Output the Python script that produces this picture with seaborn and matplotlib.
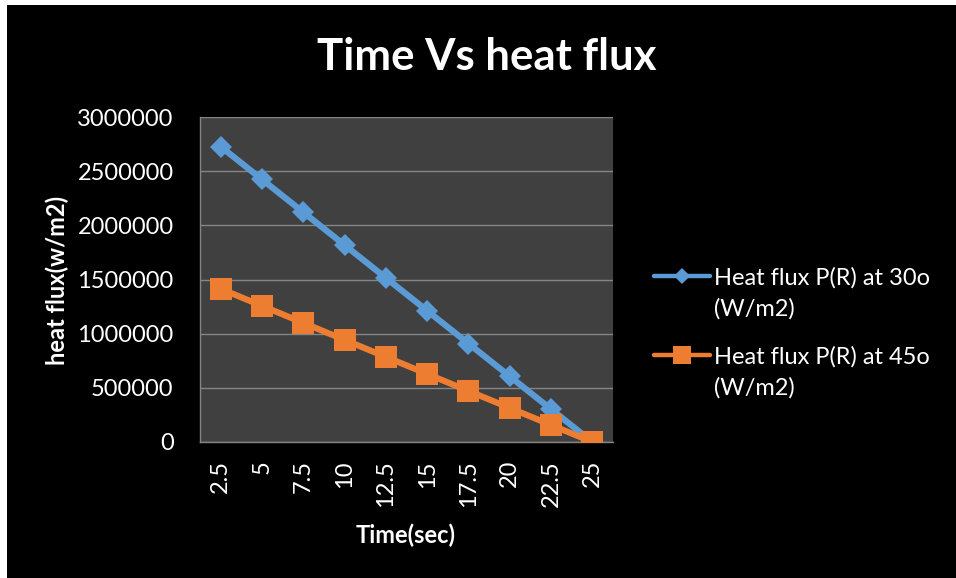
import matplotlib
matplotlib.use("Agg")
import matplotlib.pyplot as plt
import seaborn as sns
import pandas as pd
from matplotlib.patches import Rectangle

# Data
time_sec = [2.5, 5, 7.5, 10, 12.5, 15, 17.5, 20, 22.5, 25]
time_labels = ["2.5", "5", "7.5", "10", "12.5", "15", "17.5", "20", "22.5", "25"]
flux_30 = [2727000, 2424000, 2121000, 1818000, 1515000, 1212000, 909000, 606000, 303000, 0]
flux_45 = [1413900, 1256800, 1099700, 942600, 785500, 628400, 471300, 314200, 157100, 0]
series_names = ["Heat flux P(R) at 30o", "Heat flux P(R) at 45o"]
unit_label = "(W/m2)"
y_ticks = [0, 500000, 1000000, 1500000, 2000000, 2500000, 3000000]

df = pd.DataFrame({
    "time": time_sec * 2,
    "flux": flux_30 + flux_45,
    "series": [series_names[0]] * len(time_sec) + [series_names[1]] * len(time_sec),
})

sns.set_theme(style="dark")
plt.rcParams["font.family"] = ["Lato", "DejaVu Sans"]

W, H = 956, 578
FS = 17
fig = plt.figure(figsize=(W / 100, H / 100), dpi=100)
fig.patch.set_facecolor("white")
# black chart area with thin white margin at top/left
fig.patches.append(Rectangle((7 / W, 0), 1 - 7 / W, 1 - 5 / H,
                             transform=fig.transFigure, facecolor="black",
                             edgecolor="none", zorder=-10))

ax = fig.add_axes([200 / W, 1 - 442 / H, 413 / W, 325 / H])
ax.set_facecolor("#404040")

palette = {series_names[0]: "#5B9BD5", series_names[1]: "#ED7D31"}
markers = {series_names[0]: "D", series_names[1]: "s"}
sizes_ms = {series_names[0]: 11, series_names[1]: 15.5}
legend_ms = {series_names[0]: 8, series_names[1]: 12.5}

sns.lineplot(data=df, x="time", y="flux", hue="series", style="series",
             palette=palette, markers=markers, dashes=False, linewidth=4.5,
             markersize=12, markeredgewidth=0, legend=True, ax=ax, zorder=3)

for line, name in zip(ax.get_lines(), series_names):
    line.set_markersize(sizes_ms[name])

ax.set_xlim(1.25, 26.25)
ax.set_ylim(0, 3000000)
ax.set_xticks(time_sec)
ax.set_xticklabels(time_labels, rotation=90, color="white", fontsize=FS)
ax.set_yticks(y_ticks)
ax.set_yticklabels([str(v) for v in y_ticks], color="white", fontsize=FS)
ax.tick_params(axis="y", length=0, pad=19)
ax.tick_params(axis="x", length=0, pad=13)
ax.grid(axis="y", color="#858585", linewidth=1)
ax.grid(axis="x", visible=False)
for side in ["top", "right"]:
    ax.spines[side].set_visible(False)
for side in ["left", "bottom"]:
    ax.spines[side].set_visible(True)
    ax.spines[side].set_color("#858585")
    ax.spines[side].set_linewidth(1)
ax.set_xlabel("")
ax.set_ylabel("")

handles, labels = ax.get_legend_handles_labels()
ax.get_legend().remove()
leg = fig.legend(handles, labels, loc="upper left",
                 bbox_to_anchor=(642 / W, 1 - 255 / H),
                 frameon=False, fontsize=FS, handlelength=2.4,
                 handletextpad=0.17, labelspacing=2.45, borderpad=0,
                 labelcolor="white")
for h, name in zip(leg.legend_handles, series_names):
    h.set_linewidth(3.2)
    h.set_markersize(legend_ms[name])

fig.text(486.5 / W, 1 - 70 / H, "Time Vs heat flux", ha="center",
         va="baseline", color="white", fontsize=31.5, fontweight="bold")
fig.text(57 / W, 1 - 280.5 / H, "heat flux(w/m2)", rotation=90, ha="center",
         va="center", color="white", fontsize=FS, fontweight="bold")
fig.text(406 / W, 1 - 535 / H, "Time(sec)", ha="center", va="center",
         color="white", fontsize=FS, fontweight="bold")

# second line of each legend entry
fig.canvas.draw()
for t in leg.get_texts():
    bb = t.get_window_extent()
    fig.text(bb.x0 / W, (bb.y0 - 31) / H, unit_label, ha="left",
             va="bottom", color="white", fontsize=FS)

fig.savefig("out.png", dpi=100, facecolor=fig.get_facecolor())
